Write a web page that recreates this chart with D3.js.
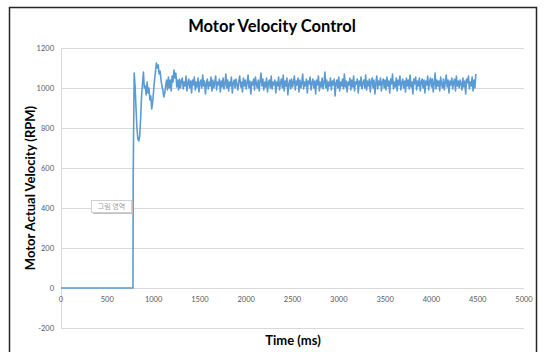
<!DOCTYPE html>
<html><head><meta charset="utf-8">
<script src="https://cdn.jsdelivr.net/npm/d3@7"></script>
<style>
html,body{margin:0;padding:0;background:#fff;}
svg{display:block;}
</style></head>
<body>
<script>
// ---- data ----
const chartTitle = "Motor Velocity Control";
const xTitle = "Time (ms)";
const yTitle = "Motor Actual Velocity (RPM)";
const xTicks = [0,500,1000,1500,2000,2500,3000,3500,4000,4500,5000];
const yTicks = [-200,0,200,400,600,800,1000,1200];
const idleTimes = [0, 777];
const idleValues = [0, 0];
const sampleStartMs = 780;
const sampleStepMs = 10;
const velocity = [
 560,1075,1010,900,800,745,735,760,850,960,1020,1080,1000,1010,965,1030,975,1000,940,960,
 895,930,985,1040,1080,1125,1100,1115,1070,1085,1040,1010,990,955,975,1010,1040,990,1055,1000,
 1040,985,1060,1030,1090,1050,1075,1005,1040,990,1045,1000,1035,
 1050,995,1030,1010,1060,985,1025,1045,1000,1035,975,1040,1015,1055,990,1030,1005,1050,980,1025,
 1040,1000,1065,1010,1035,970,1020,1045,995,1030,1010,1055,985,1040,1000,1025,1060,990,1030,1015,
 1045,980,1035,1005,1050,995,1020,1070,1000,1040,985,1030,1010,1055,975,1025,1040,1000,1045,1015,
 990,1035,1060,1005,1030,980,1050,1010,1040,995,1025,1065,1000,1035,970,1030,1015,1045,990,1055,
 1020,1000,1040,985,1035,1075,1010,1045,990,1030,1005,1050,980,1025,1040,1000,1060,995,1030,1015,
 1040,975,1030,1010,1055,990,1025,1045,1000,1065,985,1035,1010,1050,965,1020,1040,995,1045,1005,
 1030,1060,990,1035,1015,1050,980,1040,1000,1025,1070,995,1030,1010,1045,975,1035,1020,1055,990,
 1025,1045,1000,1035,970,1040,1015,1060,985,1030,1005,1050,995,1025,1080,1000,1040,985,1030,1010,
 1050,990,1035,1015,1045,960,1025,1040,1000,1055,985,1030,1010,1045,995,1070,1005,1035,980,1030,
 1015,1050,990,1040,1005,1060,985,1030,1020,1045,975,1035,1010,1055,995,1025,1040,1000,1065,990,
 1035,1010,1045,980,1030,1050,1000,1040,970,1025,1060,995,1035,1015,1050,985,1030,1045,1000,1040,
 990,1055,1010,1035,975,1045,1020,1070,995,1030,1005,1050,985,1040,1015,1060,990,1025,1045,1000,
 1035,980,1050,1010,1040,995,1065,1005,1030,970,1045,1020,1055,990,1035,1010,1050,985,1030,1045,
 1000,1040,975,1035,1015,1060,990,1030,1050,1005,1045,980,1025,1075,995,1040,1010,1035,985,1055,
 1020,1000,1045,990,1030,1065,1005,1040,975,1035,1015,1050,995,1030,1045,985,1060,1010,1035,1000,
 1040,1020,990,1050,1005,1035,970,1045,1025,1060,995,1030,1010,1055,985,1040,1000,1070
];
const tooltipText = "그림 영역";

// ---- build series ----
const series = idleTimes.map((t,i)=>({t, v: idleValues[i]}))
  .concat(velocity.map((v,i)=>({t: sampleStartMs + i*sampleStepMs, v})));

const W = 545, H = 352;
const svg = d3.select("body").append("svg").attr("width",W).attr("height",H);

// frame
svg.append("rect").attr("x",9.5).attr("y",7.5).attr("width",527).attr("height",360)
  .attr("fill","#fff").attr("stroke","#262626").attr("stroke-width",1.5);

const x = d3.scaleLinear().domain([0,5000]).range([61,524]);
const y = d3.scaleLinear().domain([-200,1200]).range([328,48]);

const font = "Lato, 'Liberation Sans', sans-serif";

// gridlines
svg.append("g").selectAll("line").data(yTicks).join("line")
  .attr("x1",x(0)).attr("x2",x(5000))
  .attr("y1",d=>Math.round(y(d))+0.5).attr("y2",d=>Math.round(y(d))+0.5)
  .attr("stroke","#D9D9D9").attr("stroke-width",1);
// vertical axis line
svg.append("line").attr("x1",x(0)+0.5).attr("x2",x(0)+0.5).attr("y1",y(1200)).attr("y2",y(-200))
  .attr("stroke","#D9D9D9");

// y tick labels
svg.append("g").selectAll("text").data(yTicks).join("text")
  .attr("x",x(0)-7).attr("y",d=>y(d)).attr("dy","0.35em")
  .attr("text-anchor","end").attr("font-family",font).attr("font-size",7.5)
  .attr("fill","#595959").text(d=>d);
// x tick labels
svg.append("g").selectAll("text").data(xTicks).join("text")
  .attr("x",d=>x(d)).attr("y",y(0)+11).attr("dy","0.35em")
  .attr("text-anchor","middle").attr("font-family",font).attr("font-size",7.5)
  .attr("fill","#595959").text(d=>d);

// line
const line = d3.line().x(d=>x(d.t)).y(d=>y(d.v));
svg.append("path").datum(series).attr("d",line)
  .attr("fill","none").attr("stroke","#5B9BD5").attr("stroke-width",1.6)
  .attr("stroke-linejoin","round");

// titles
svg.append("text").attr("x",272).attr("y",26).attr("dy","0.35em").attr("text-anchor","middle")
  .attr("font-family",font).attr("font-weight","bold").attr("font-size",16.5).attr("fill","#000")
  .text(chartTitle);
svg.append("text").attr("x",293).attr("y",340).attr("dy","0.35em").attr("text-anchor","middle")
  .attr("font-family",font).attr("font-weight","bold").attr("font-size",13).attr("fill","#000")
  .text(xTitle);
svg.append("text").attr("transform","translate(30,188) rotate(-90)").attr("dy","0.35em")
  .attr("text-anchor","middle").attr("font-family",font).attr("font-weight","bold")
  .attr("font-size",13).attr("fill","#000").text(yTitle);

// tooltip box
const tip = svg.append("g");
tip.append("rect").attr("x",93).attr("y",202).attr("width",40).attr("height",12)
  .attr("fill","#bfbfbf");
tip.append("rect").attr("x",91.5).attr("y",200.5).attr("width",40).attr("height",12)
  .attr("fill","#fff").attr("stroke","#d0d0d0");
tip.append("text").attr("x",111.5).attr("y",206.5).attr("dy","0.35em").attr("text-anchor","middle")
  .attr("font-family","'Noto Sans CJK KR', sans-serif").attr("font-size",7).attr("fill","#a0a0a0")
  .text(tooltipText);
</script>
</body></html>
